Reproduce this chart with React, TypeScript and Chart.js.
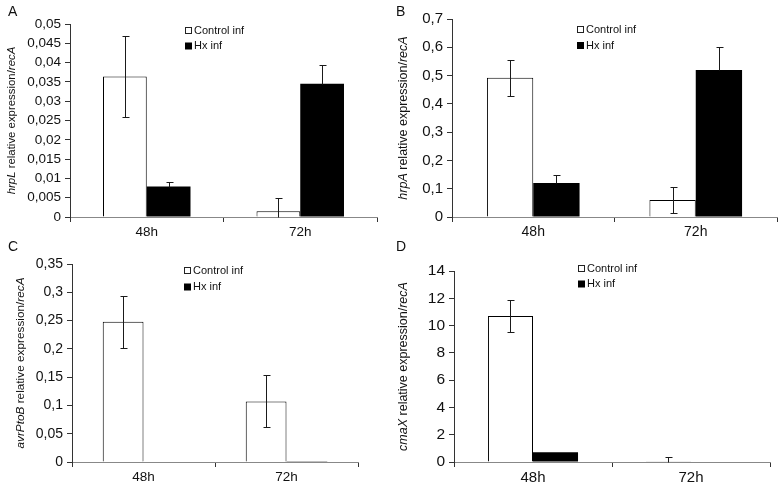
import { useEffect, useRef } from 'react';
import { Chart, registerables } from 'chart.js';
Chart.register(...registerables);

const FONT = '"Liberation Sans", Arial, sans-serif';

const categories = ['48h', '72h'];
const seriesLabels = ['Control inf', 'Hx inf'];

// Panel A: hrpL
const controlA = [0.0364, 0.0015];
const controlErrA = [0.0105, 0.0035];
const hxA = [0.0079, 0.0345];
const hxErrA = [0.0011, 0.005];
const yTicksA = [0, 0.005, 0.01, 0.015, 0.02, 0.025, 0.03, 0.035, 0.04, 0.045, 0.05];

// Panel B: hrpA
const controlB = [0.492, 0.06];
const controlErrB = [0.0635, 0.047];
const hxB = [0.12, 0.52];
const hxErrB = [0.027, 0.08];
const yTicksB = [0, 0.1, 0.2, 0.3, 0.4, 0.5, 0.6, 0.7];

// Panel C: avrPtoB
const controlC = [0.248, 0.107];
const controlErrC = [0.046, 0.046];
const hxC = [0, 0.0015];
const hxErrC = [0, 0];
const yTicksC = [0, 0.05, 0.1, 0.15, 0.2, 0.25, 0.3, 0.35];

// Panel D: cmaX
const controlD = [10.7, 0.05];
const controlErrD = [1.15, 0.35];
const hxD = [0.72, 0];
const hxErrD = [0, 0];
const yTicksD = [0, 2, 4, 6, 8, 10, 12, 14];

type Seg = { t: string; i: boolean };
type Panel = {
  letter: string; lx: number; ly: number;
  left: number; top: number; right: number; bottom: number;
  control: number[]; controlErr: number[]; hx: number[]; hxErr: number[];
  ticks: number[];
  title: Seg[]; titleX: number; titleFont: number;
  legX: number; legY: number; legGap: number;
  yFont: number; xFont: number;
};

const W = 782, H = 491;

const panels: Panel[] = [
  {
    letter: 'A', lx: 8, ly: 12, left: 70, top: 24, right: 377, bottom: 217,
    control: controlA, controlErr: controlErrA, hx: hxA, hxErr: hxErrA, ticks: yTicksA,
    title: [{ t: 'hrpL', i: true }, { t: ' relative expression/', i: false }, { t: 'recA', i: true }],
    titleX: 12, titleFont: 11.4, legX: 185, legY: 30, legGap: 15.5, yFont: 13.5, xFont: 13.5,
  },
  {
    letter: 'B', lx: 396, ly: 12, left: 452, top: 19, right: 777, bottom: 217,
    control: controlB, controlErr: controlErrB, hx: hxB, hxErr: hxErrB, ticks: yTicksB,
    title: [{ t: 'hrpA', i: true }, { t: ' relative expression/', i: false }, { t: 'recA', i: true }],
    titleX: 404, titleFont: 12.5, legX: 577, legY: 29, legGap: 16, yFont: 15, xFont: 14,
  },
  {
    letter: 'C', lx: 8, ly: 247, left: 72, top: 264, right: 358, bottom: 462,
    control: controlC, controlErr: controlErrC, hx: hxC, hxErr: hxErrC, ticks: yTicksC,
    title: [{ t: 'avrPtoB', i: true }, { t: ' relative expression/', i: false }, { t: 'recA', i: true }],
    titleX: 21, titleFont: 11.8, legX: 184, legY: 270, legGap: 16.5, yFont: 14, xFont: 13.5,
  },
  {
    letter: 'D', lx: 396, ly: 247, left: 454, top: 271, right: 770, bottom: 462,
    control: controlD, controlErr: controlErrD, hx: hxD, hxErr: hxErrD, ticks: yTicksD,
    title: [{ t: 'cmaX', i: true }, { t: ' relative expression/', i: false }, { t: 'recA', i: true }],
    titleX: 404, titleFont: 12.5, legX: 578, legY: 268, legGap: 15.5, yFont: 15.5, xFont: 15,
  },
];

function fmt(v: number) {
  return String(Number(v.toFixed(4))).replace('.', ',');
}

function makeConfig(p: Panel): any {
  const extras = {
    id: 'extras',
    afterDatasetsDraw(chart: any) {
      const ctx = chart.ctx as CanvasRenderingContext2D;
      const ys = chart.scales.y;
      ctx.save();
      ctx.strokeStyle = '#1a1a1a';
      ctx.lineWidth = 1;
      chart.data.datasets.forEach((ds: any, di: number) => {
        const meta = chart.getDatasetMeta(di);
        meta.data.forEach((el: any, j: number) => {
          const v = ds.data[j];
          const e = ds.errors[j];
          if (!e) return;
          const x = Math.round(el.x) + 0.5;
          const y0 = Math.round(ys.getPixelForValue(v)) + 0.5;
          const yt = Math.round(ys.getPixelForValue(v + e)) + 0.5;
          const low = v - e;
          const filled = di === 1;
          const yb = filled ? y0 : Math.round(ys.getPixelForValue(Math.max(0, low))) + 0.5;
          ctx.beginPath();
          ctx.moveTo(x, yt); ctx.lineTo(x, yb);
          ctx.moveTo(x - 3, yt); ctx.lineTo(x + 4, yt);
          if (!filled && low > 0) { ctx.moveTo(x - 3, yb); ctx.lineTo(x + 4, yb); }
          ctx.stroke();
        });
      });
      ctx.restore();
    },
    afterDraw(chart: any) {
      const ctx = chart.ctx as CanvasRenderingContext2D;
      const area = chart.chartArea;
      ctx.save();
      // panel letter
      ctx.fillStyle = '#111';
      ctx.font = `14px ${FONT}`;
      ctx.textAlign = 'left';
      ctx.textBaseline = 'middle';
      ctx.fillText(p.letter, p.lx, p.ly);
      // legend
      ctx.font = `11px ${FONT}`;
      chart.data.datasets.forEach((ds: any, di: number) => {
        const cy = p.legY + di * p.legGap;
        if (di === 0) {
          ctx.fillStyle = '#fff';
          ctx.fillRect(p.legX + 0.5, cy - 3 + 0.5, 6, 6);
          ctx.strokeStyle = '#222';
          ctx.lineWidth = 1;
          ctx.strokeRect(p.legX + 0.5, cy - 3 + 0.5, 6, 6);
        } else {
          ctx.fillStyle = '#000';
          ctx.fillRect(p.legX, cy - 3, 7, 7);
        }
        ctx.fillStyle = '#111';
        ctx.fillText(ds.label, p.legX + 9, cy + 0.5);
      });
      // y axis title with italic parts
      const fn = (s: Seg) => `${s.i ? 'italic ' : ''}${p.titleFont}px ${FONT}`;
      let total = 0;
      p.title.forEach((s) => { ctx.font = fn(s); total += ctx.measureText(s.t).width; });
      ctx.translate(p.titleX, (area.top + area.bottom) / 2);
      ctx.rotate(-Math.PI / 2);
      let xx = -total / 2;
      ctx.fillStyle = '#111';
      p.title.forEach((s) => {
        ctx.font = fn(s);
        ctx.fillText(s.t, xx, 0);
        xx += ctx.measureText(s.t).width;
      });
      ctx.restore();
    },
  };

  return {
    type: 'bar',
    data: {
      labels: categories,
      datasets: [
        {
          label: seriesLabels[0], data: p.control, errors: p.controlErr,
          backgroundColor: '#ffffff', borderColor: '#000000', borderWidth: 1,
          categoryPercentage: 0.57, barPercentage: 1.0,
        },
        {
          label: seriesLabels[1], data: p.hx, errors: p.hxErr,
          backgroundColor: '#000000', borderColor: '#000000', borderWidth: 0,
          categoryPercentage: 0.57, barPercentage: 1.0,
        },
      ],
    },
    options: {
      responsive: false,
      animation: false,
      devicePixelRatio: 1,
      events: [],
      layout: { padding: { left: 0, top: p.top, right: W - p.right, bottom: 0 } },
      plugins: { legend: { display: false }, tooltip: { enabled: false }, title: { display: false } },
      scales: {
        x: {
          type: 'category',
          offset: true,
          grid: { display: true, offset: true, drawOnChartArea: false, drawTicks: true, tickLength: 5, color: '#333' },
          border: { display: true, color: '#888', width: 1 },
          ticks: { color: '#111', font: { family: FONT, size: p.xFont }, padding: 2, maxRotation: 0 },
          afterFit: (s: any) => { s.height = H - p.bottom; },
        },
        y: {
          type: 'linear',
          min: 0,
          max: p.ticks[p.ticks.length - 1],
          afterBuildTicks: (s: any) => { s.ticks = p.ticks.map((v) => ({ value: v })); },
          grid: { display: true, drawOnChartArea: false, drawTicks: true, tickLength: 5, color: '#333' },
          border: { display: true, color: '#333', width: 1 },
          ticks: {
            color: '#111', font: { family: FONT, size: p.yFont }, padding: 4,
            callback: (v: any) => fmt(Number(v)),
          },
          afterFit: (s: any) => { s.width = p.left; },
        },
      },
    },
    plugins: [extras],
  };
}

function PanelChart({ p }: { p: Panel }) {
  const ref = useRef<HTMLCanvasElement | null>(null);
  useEffect(() => {
    if (!ref.current) return;
    const chart = new Chart(ref.current, makeConfig(p));
    return () => chart.destroy();
  }, [p]);
  return (
    <canvas
      ref={ref}
      width={W}
      height={H}
      style={{ position: 'absolute', left: 0, top: 0, width: W, height: H }}
    />
  );
}

export default function App() {
  return (
    <div style={{ position: 'fixed', left: 0, top: 0, width: W, height: H, background: '#fff' }}>
      {panels.map((p) => (
        <PanelChart key={p.letter} p={p} />
      ))}
    </div>
  );
}
